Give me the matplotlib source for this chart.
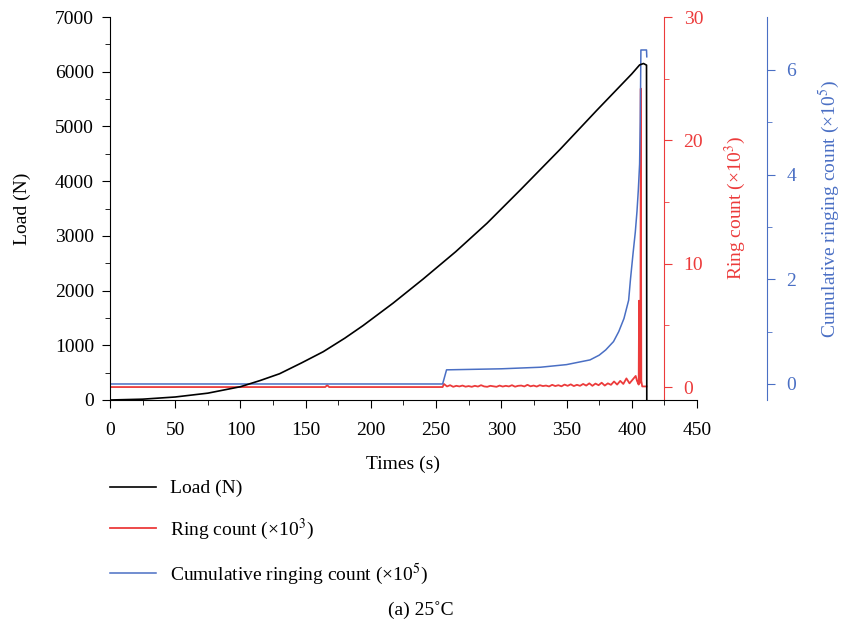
import numpy as np
import matplotlib
matplotlib.use("Agg")
from matplotlib import pyplot as plt
from matplotlib.ticker import MultipleLocator, FixedLocator

plt.rcParams['font.family'] = ['Liberation Serif', 'DejaVu Serif']
plt.rcParams['mathtext.fontset'] = 'stix'

RED = '#ec3b3b'
BLUE = '#4a6fc4'

# load curve (N)
load_t = [0, 25, 50, 75, 100, 115, 130, 147, 163.5, 180, 194, 217, 240, 265, 289, 315,
          345, 373, 400, 406, 409, 411.3, 411.5]
load_n = [0, 15, 55, 125, 243, 355, 480, 680, 883, 1130, 1360, 1770, 2210, 2710, 3230, 3850,
          4580, 5290, 5960, 6124, 6150, 6120, 0]

# ring count (x10^3)
ring_t_base = [0, 165, 166.5, 168, 255]
ring_v_base = [0, 0, 0.15, 0, 0]
ring_noise = [0.25, 0.05, 0.15, 0.02, 0.1, 0.05, 0.12, 0.03, 0.08, 0.02, 0.1, 0.04,
              0.15, 0.05, 0.02, 0.1, 0.06, 0.02, 0.12, 0.04, 0.1, 0.05, 0.15, 0.03,
              0.1, 0.12, 0.05, 0.18, 0.06, 0.12, 0.04, 0.15, 0.08, 0.12, 0.05, 0.18,
              0.08, 0.15, 0.06, 0.2, 0.1, 0.22, 0.08, 0.18, 0.1, 0.25, 0.12, 0.3,
              0.1, 0.28, 0.15, 0.35, 0.12, 0.3, 0.18, 0.45, 0.2, 0.5, 0.25, 0.7,
              0.3, 0.6, 0.9]
ring_t_peak = [404, 405.3, 405.6, 405.9, 406.6, 406.9, 407.3, 408, 411.3]
ring_v_peak = [0.5, 0.2, 7.0, 0.3, 1.0, 24.2, 0.5, 0.05, 0.05]

# cumulative ringing count (x10^5)
cum_t = [0, 255, 258, 300, 330, 350, 368, 375, 380, 386, 390, 394, 397.6, 399,
         401, 402.7, 404, 405, 406, 406.5, 407, 411.3, 411.5]
cum_v = [0, 0, 0.27, 0.29, 0.32, 0.37, 0.46, 0.55, 0.65, 0.81, 1.0, 1.25, 1.6, 2.0,
         2.5, 2.9, 3.3, 3.7, 4.2, 5.0, 6.38, 6.38, 6.25]

noise_t = np.linspace(256, 403, len(ring_noise))
ring_t = ring_t_base + list(noise_t) + ring_t_peak
ring_v = ring_v_base + ring_noise + ring_v_peak

fig = plt.figure(figsize=(8.45, 6.29), dpi=100)
ax = fig.add_axes([110 / 845, 1 - 400 / 629, 587 / 845, 383 / 629])
ax2 = ax.twinx()
ax3 = ax.twinx()

l1, = ax.plot(load_t, load_n, color='black', lw=1.2, label='Load (N)', zorder=3)
l2, = ax2.plot(ring_t, ring_v, color=RED, lw=1.3, label='Ring count (×10$^{3}$)')
l3, = ax3.plot(cum_t, cum_v, color=BLUE, lw=1.1, label='Cumulative ringing count (×10$^{5}$)')

ax.set_xlim(0, 450)
ax.set_ylim(0, 7000)
ax2.set_ylim(-1.05, 30)
ax3.set_ylim(-0.306, 7.01)

for a in (ax, ax2, ax3):
    a.spines['top'].set_visible(False)
ax.set_zorder(3)
ax.patch.set_visible(False)
ax.spines['right'].set_visible(False)
for a in (ax2, ax3):
    a.spines['left'].set_visible(False)
    a.spines['bottom'].set_visible(False)
ax2.spines['right'].set_position(('axes', 0.944))
ax3.spines['right'].set_position(('axes', 1.119))
ax2.spines['right'].set_color(RED)
ax3.spines['right'].set_color(BLUE)

ax.xaxis.set_major_locator(MultipleLocator(50))
ax.xaxis.set_minor_locator(MultipleLocator(25))
ax.yaxis.set_major_locator(MultipleLocator(1000))
ax.yaxis.set_minor_locator(MultipleLocator(500))
ax2.yaxis.set_major_locator(FixedLocator([0, 10, 20, 30]))
ax2.yaxis.set_minor_locator(FixedLocator([5, 15, 25]))
ax3.yaxis.set_major_locator(FixedLocator([0, 2, 4, 6]))
ax3.yaxis.set_minor_locator(FixedLocator([1, 3, 5]))

fs = 14
ax.tick_params(axis='x', which='major', direction='out', length=5.5, pad=10, labelsize=fs)
ax.tick_params(axis='y', which='major', direction='out', length=5.5, pad=6, labelsize=fs)
ax.tick_params(which='minor', direction='out', length=3.5)
ax2.tick_params(axis='y', which='major', direction='out', length=6, pad=8, colors=RED, labelsize=fs)
ax2.tick_params(axis='y', which='minor', direction='out', length=3.5, colors=RED)
ax3.tick_params(axis='y', which='major', direction='out', length=6, pad=8, colors=BLUE, labelsize=fs)
ax3.tick_params(axis='y', which='minor', direction='out', length=3.5, colors=BLUE)

ax.set_xlabel('Times (s)', fontsize=fs, labelpad=12)
ax.set_ylabel('Load (N)', fontsize=fs, labelpad=17)
ax2.set_ylabel('Ring count (×10$^{3}$)', fontsize=fs, color=RED, labelpad=14)
ax3.set_ylabel('Cumulative ringing count (×10$^{5}$)', fontsize=fs, color=BLUE, labelpad=15)

fig.legend(handles=[l1, l2, l3], loc='upper left', frameon=False, fontsize=fs,
           bbox_to_anchor=(102 / 845, 1 - 472 / 629), handlelength=2.4,
           handletextpad=0.7, labelspacing=1.0, borderaxespad=0)

fig.text(421 / 845, 1 - 610 / 629, '(a) 25˚C', ha='center', va='center', fontsize=fs)

fig.savefig('out.png', dpi=100)
